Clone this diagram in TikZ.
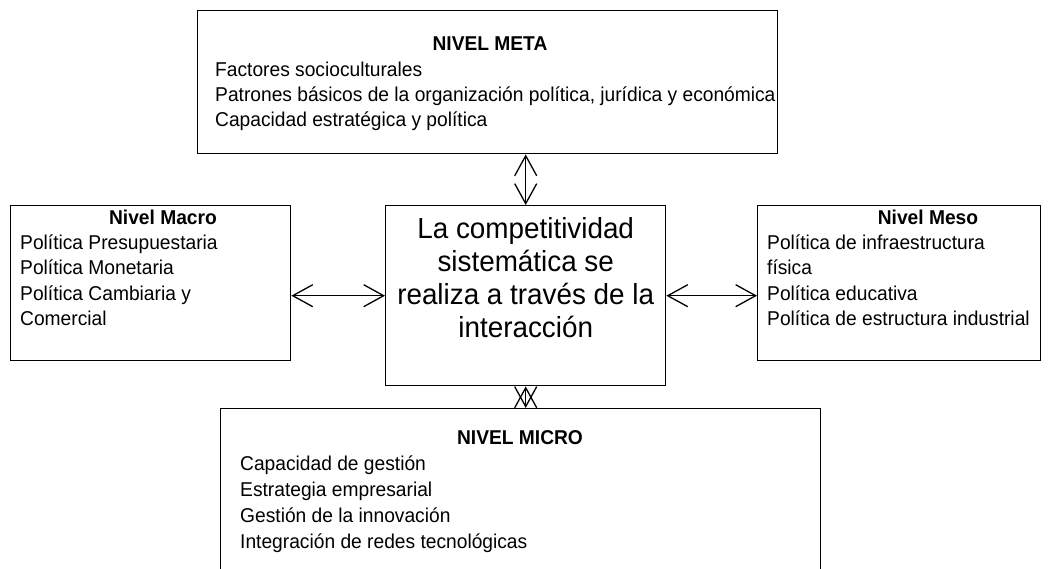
\documentclass[tikz,border=0pt]{standalone}
\usepackage{fontspec}
\setmainfont{Liberation Sans}[FakeStretch=0.96]
\usetikzlibrary{arrows.meta}
\begin{document}
\begin{tikzpicture}[x=1pt,y=-1pt,
  box/.style={draw,line width=1.4pt,inner sep=0pt,anchor=north west},
  txt/.style={anchor=base west,inner sep=0pt,font=\fontsize{20}{25}\selectfont},
  head/.style={anchor=base,inner sep=0pt,font=\fontsize{20}{25}\selectfont\bfseries},
  link/.style={line width=1.3pt,{Straight Barb[length=20pt,width=22pt]}-{Straight Barb[length=20pt,width=22pt]}}]
\useasboundingbox (0,0) rectangle (1049,569);
\clip (0,0) rectangle (1049,569);
% boxes
\node[box,minimum width=580pt,minimum height=143pt] (meta) at (197,10) {};
\node[box,minimum width=280pt,minimum height=180pt] (center) at (385,205) {};
\node[box,minimum width=280pt,minimum height=155pt] (macro) at (10,205) {};
\node[box,minimum width=283pt,minimum height=155pt] (meso) at (757,205) {};
\node[box,minimum width=600pt,minimum height=200pt] (micro) at (220,408) {};
% meta text
\node[head] (metah) at (490,51) {NIVEL META};
\node[txt] (meta1) at (215,77) {Factores socioculturales};
\node[txt] (meta2) at (215,102) {Patrones básicos de la organización política, jurídica y económica};
\node[txt] (meta3) at (215,127) {Capacidad estratégica y política};
% center text
\node[align=center,inner sep=0pt,anchor=north,font=\fontsize{29}{33}\selectfont] (ctext) at ([yshift=-12pt]center.north) {La competitividad\\sistemática se\\realiza a través de la\\interacción};
% macro text
\node[head] (macroh) at (163,225) {Nivel Macro};
\node[txt] (macro1) at (20,250) {Política Presupuestaria};
\node[txt] (macro2) at (20,275) {Política Monetaria};
\node[txt] (macro3) at (20,300) {Política Cambiaria y};
\node[txt] (macro4) at (20,325) {Comercial};
% meso text
\node[head] (mesoh) at (928,225) {Nivel Meso};
\node[txt] (meso1) at (767,250) {Política de infraestructura};
\node[txt] (meso2) at (767,275) {física};
\node[txt] (meso3) at (767,300) {Política educativa};
\node[txt] (meso4) at (767,325) {Política de estructura industrial};
% micro text
\node[head] (microh) at (520,444) {NIVEL MICRO};
\node[txt] (micro1) at (240,470) {Capacidad de gestión};
\node[txt] (micro2) at (240,496) {Estrategia empresarial};
\node[txt] (micro3) at (240,522) {Gestión de la innovación};
\node[txt] (micro4) at (240,548) {Integración de redes tecnológicas};
% connectors
\draw[link] (center.north |- meta.south) -- (center.north);
\draw[link] (center.south) -- (center.south |- micro.north);
\draw[link] (macro.east |- center.west) -- (center.west);
\draw[link] (center.east) -- (meso.west |- center.east);
\end{tikzpicture}
\end{document}
